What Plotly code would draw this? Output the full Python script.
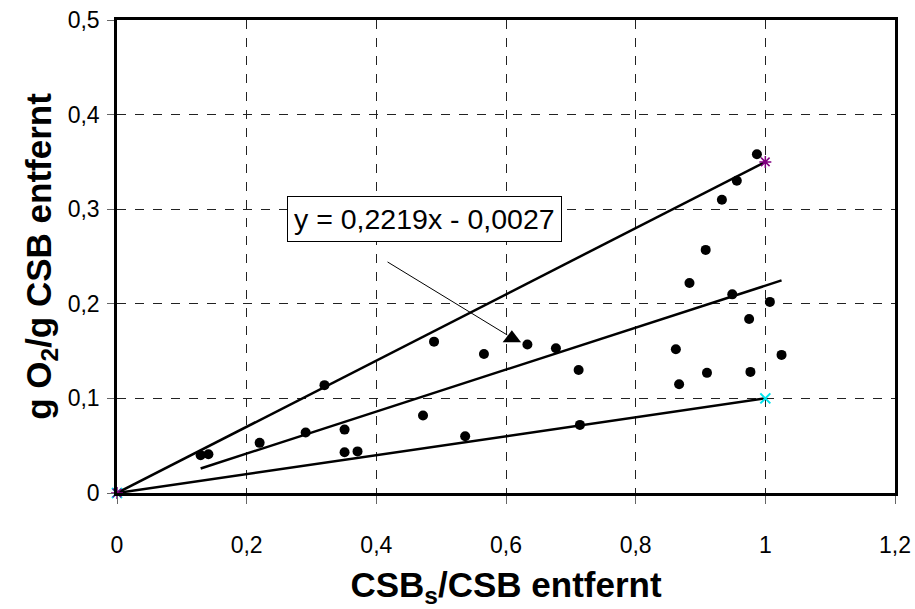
import plotly.graph_objects as go

# Measured points: CSB_s / CSB removed vs. g O2 / g CSB removed
csb_ratio = [0.129, 0.141, 0.220, 0.291, 0.320, 0.351, 0.351, 0.371, 0.472, 0.489,
             0.537, 0.566, 0.633, 0.677, 0.712, 0.714, 0.862, 0.867, 0.883, 0.908,
             0.910, 0.933, 0.949, 0.956, 0.975, 0.977, 0.987, 1.007, 1.025]
o2_demand = [0.040, 0.041, 0.053, 0.064, 0.114, 0.067, 0.043, 0.044, 0.082, 0.160,
             0.060, 0.147, 0.157, 0.153, 0.130, 0.072, 0.152, 0.115, 0.222, 0.257,
             0.127, 0.310, 0.210, 0.330, 0.184, 0.128, 0.358, 0.202, 0.146]

# Mean point
mean_x = [0.609]
mean_y = [0.1635]

# Upper and lower bounding lines
upper_x = [0.0, 1.0]
upper_y = [0.0, 0.35]
lower_x = [0.0, 1.0]
lower_y = [0.0, 0.10]

# Linear regression
slope = 0.2219
intercept = -0.0027
trend_x = [min(csb_ratio), max(csb_ratio)]
trend_y = [slope * v + intercept for v in trend_x]

x_ticks = [0, 0.2, 0.4, 0.6, 0.8, 1.0, 1.2]
x_ticktext = ["0", "0,2", "0,4", "0,6", "0,8", "1", "1,2"]
y_ticks = [0, 0.1, 0.2, 0.3, 0.4, 0.5]
y_ticktext = ["0", "0,1", "0,2", "0,3", "0,4", "0,5"]

FONT = "Arial, Liberation Sans, sans-serif"

fig = go.Figure()

fig.add_trace(go.Scatter(
    x=lower_x, y=lower_y, mode="lines+markers",
    line=dict(color="black", width=2.5),
    marker=dict(symbol="x-thin-open", size=10, color="#00e5ee",
                line=dict(color="#00e5ee", width=2)),
    cliponaxis=False, showlegend=False))

fig.add_trace(go.Scatter(
    x=trend_x, y=trend_y, mode="lines",
    line=dict(color="black", width=2.5), showlegend=False))

fig.add_trace(go.Scatter(
    x=upper_x, y=upper_y, mode="lines+markers",
    line=dict(color="black", width=2.5),
    marker=dict(symbol="asterisk-open", size=10, color="#800080",
                line=dict(color="#800080", width=1.5)),
    cliponaxis=False, showlegend=False))

fig.add_trace(go.Scatter(
    x=csb_ratio, y=o2_demand, mode="markers",
    marker=dict(symbol="circle", size=10, color="black"),
    showlegend=False))

fig.add_trace(go.Scatter(
    x=mean_x, y=mean_y, mode="markers",
    marker=dict(symbol="triangle-up", size=16, color="black"),
    showlegend=False))

# Pointer line from the equation box to the mean point
fig.add_annotation(
    x=0.602, y=0.167, ax=0.415, ay=0.2452,
    xref="x", yref="y", axref="x", ayref="y",
    text="", showarrow=True, arrowhead=0, arrowwidth=1, arrowcolor="black")

fig.add_annotation(
    x=0.475, y=0.2897, xref="x", yref="y",
    text="y = 0,2219x - 0,0027", showarrow=False,
    font=dict(family=FONT, size=28.5, color="black"),
    bgcolor="white", bordercolor="black", borderwidth=1, borderpad=6)

axis_common = dict(
    showline=True, linecolor="black", linewidth=2.5, mirror=True,
    showgrid=True, gridcolor="#222222", gridwidth=1, griddash="dash",
    zeroline=False, ticks="outside", tickcolor="#666666", tickwidth=1,
    tickfont=dict(family=FONT, size=23, color="black"),
    automargin=False,
)

fig.update_xaxes(
    range=[0, 1.2], tickvals=x_ticks, ticktext=x_ticktext,
    ticklen=8, ticklabelstandoff=22,
    title=dict(text="<b>CSB<sub>s</sub>/CSB entfernt</b>",
               font=dict(family=FONT, size=35, color="black"), standoff=26),
    **axis_common)

fig.update_yaxes(
    range=[0, 0.5], tickvals=y_ticks, ticktext=y_ticktext,
    ticklen=7, ticklabelstandoff=3,
    title=dict(text="<b>g O<sub>2</sub>/g CSB entfernt</b>",
               font=dict(family=FONT, size=35, color="black"), standoff=6),
    **axis_common)

fig.update_layout(
    width=915, height=609,
    margin=dict(l=117, r=20, t=20, b=116),
    paper_bgcolor="white", plot_bgcolor="white",
    separators=", ",
)

fig.write_html("out.html")
